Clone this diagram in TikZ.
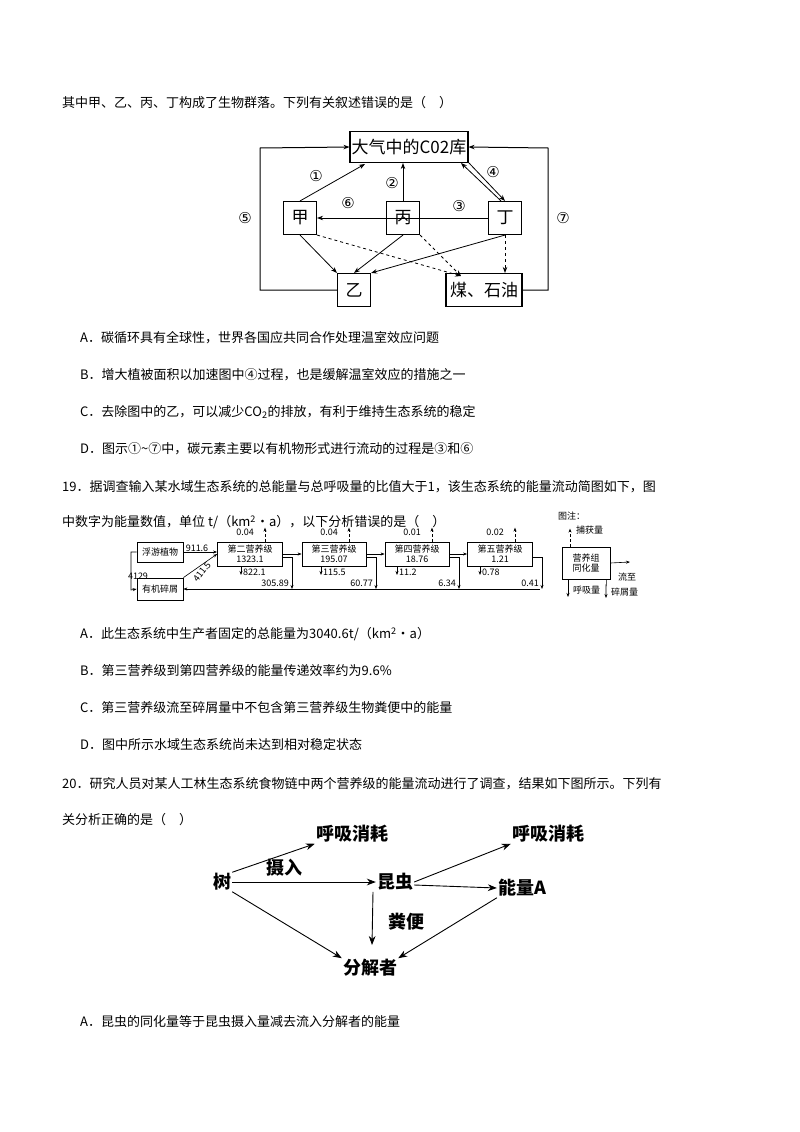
\documentclass[tikz,border=0pt]{standalone}
\usepackage{fontspec}
\setmainfont{Noto Sans CJK SC}
\newfontfamily\sym{DejaVu Sans}
\usetikzlibrary{arrows.meta}
\begin{document}
\begin{tikzpicture}[x=1pt,y=-1pt,
  txt/.style={anchor=west,inner sep=0pt,font=\fontsize{13}{15}\selectfont},
  bx/.style={draw,line width=1.1pt,inner sep=0pt,font=\fontsize{17}{19}\selectfont},
  ar/.style={-{Stealth[length=6pt]},line width=0.8pt},
  da/.style={-{Stealth[length=6pt]},line width=0.8pt,dashed},
  sm/.style={draw,line width=0.8pt,inner sep=0pt,font=\fontsize{9}{10}\selectfont,align=center},
  nm/.style={inner sep=0pt,font=\fontsize{9}{10}\selectfont},
  sa/.style={-{Stealth[length=4pt]},line width=0.6pt},
  sd/.style={-{Stealth[length=4pt]},line width=0.6pt,densely dashed},
  big/.style={inner sep=1pt,font=\fontsize{18}{20}\selectfont\bfseries},
  ba/.style={-{Stealth[length=9pt]},line width=0.9pt}]
\useasboundingbox[fill=white] (0,0) rectangle (800,1132);
% text
\node[txt] (t1) at (62,103) {其中甲、乙、丙、丁构成了生物群落。下列有关叙述错误的是（\quad）};
\node[txt] (a1) at (80,338) {A．碳循环具有全球性，世界各国应共同合作处理温室效应问题};
\node[txt] (b1) at (80,375) {B．增大植被面积以加速图中④过程，也是缓解温室效应的措施之一};
\node[txt] (c1) at (80,412) {C．去除图中的乙，可以减少CO\textsubscript{2}的排放，有利于维持生态系统的稳定};
\node[txt] (d1) at (80,449) {D．图示①\textasciitilde⑦中，碳元素主要以有机物形式进行流动的过程是③和⑥};
\node[txt] (t2) at (62,487) {19．据调查输入某水域生态系统的总能量与总呼吸量的比值大于1，该生态系统的能量流动简图如下，图};
\node[txt] (t2b) at (62,522) {中数字为能量数值，单位 t/（km\textsuperscript{2}·a），以下分析错误的是（\quad）};
\node[txt] (a2) at (80,634) {A．此生态系统中生产者固定的总能量为3040.6t/（km\textsuperscript{2}·a）};
\node[txt] (b2) at (80,671) {B．第三营养级到第四营养级的能量传递效率约为9.6\%};
\node[txt] (c2) at (80,708) {C．第三营养级流至碎屑量中不包含第三营养级生物粪便中的能量};
\node[txt] (d2) at (80,745) {D．图中所示水域生态系统尚未达到相对稳定状态};
\node[txt] (t3) at (62,784) {20．研究人员对某人工林生态系统食物链中两个营养级的能量流动进行了调查，结果如下图所示。下列有};
\node[txt] (t3b) at (62,820) {关分析正确的是（\quad）};
\node[txt] (a3) at (80,1022) {A．昆虫的同化量等于昆虫摄入量减去流入分解者的能量};
% top diagram
\node[bx,minimum width=118,minimum height=31] (co2) at (409,147) {大气中的C02库};
\node[bx,minimum size=33] (jia) at (300,218) {甲};
\node[bx,minimum size=33] (bing) at (403,218) {丙};
\node[bx,minimum size=33] (ding) at (505,218) {丁};
\node[bx,minimum size=33] (yi) at (354,290) {乙};
\node[bx,minimum width=76,minimum height=33] (mei) at (484,290) {煤、石油};
\draw[ar] (jia.north) -- (365,164);
\draw[ar] (bing.north) -- (bing.north|-co2.south);
\draw[ar] (ding) -- (jia);
\draw[ar] (ding.north) ++(-4,0) -- (461,163);
\draw[ar] (469,163) -- (ding.north);
\draw[ar] (jia.south) -- (yi.north west);
\draw[ar] (bing.south) -- (yi.north);
\draw[ar] (ding.south) -- (yi.north east);
\draw[da] (jia.south east) -- (461,276);
\draw[da] (bing.south east) -- (461,276);
\draw[da] (ding.south) -- (ding.south|-mei.north);
\coordinate (lc) at (260,290);
\draw[ar,line width=1pt] (yi.west) -- (lc) -- (260,148) -- (co2.west);
\draw[ar,line width=1pt] (mei.east) -- (548,290) -- (548,148) -- (co2.east);
\node[font=\sym\fontsize{15}{15}\selectfont] (n1) at (316,176) {①};
\node[font=\sym\fontsize{15}{15}\selectfont] (n2) at (392,183) {②};
\node[font=\sym\fontsize{15}{15}\selectfont] (n3) at (459,206) {③};
\node[font=\sym\fontsize{15}{15}\selectfont] (n4) at (493,172) {④};
\node[font=\sym\fontsize{15}{15}\selectfont] (n5) at (245,218) {⑤};
\node[font=\sym\fontsize{15}{15}\selectfont] (n6) at (348,203) {⑥};
\node[font=\sym\fontsize{15}{15}\selectfont] (n7) at (563,218) {⑦};
% middle diagram
\node[sm,minimum width=46,minimum height=20] (fy) at (160,552) {浮游植物};
\node[sm,minimum width=46,minimum height=22] (yj) at (160,589) {有机碎屑};
\node[sm,minimum width=65,minimum height=24] (s2) at (250,554) {第二营养级\\1323.1};
\node[sm,minimum width=64,minimum height=24] (s3) at (334,554) {第三营养级\\195.07};
\node[sm,minimum width=64,minimum height=24] (s4) at (417,554) {第四营养级\\18.76};
\node[sm,minimum width=65,minimum height=24] (s5) at (500,554) {第五营养级\\1.21};
\draw[sa] (fy.east) -- (s2.west|-fy.east);
\draw[sa] (yj.north east) -- (s2.west);
\draw[sa] (s2.east) -- (s3.west);
\draw[sa] (s3.east) -- (s4.west);
\draw[sa] (s4.east) -- (s5.west);
\node[nm,anchor=south] at (197,552) {911.6};
\node[nm,rotate=52] at (202,572) {411.5};
\draw[sa] (fy.west) -- (131,552) -- (131,590) -- (yj.west);
\node[nm] at (138,576) {4129};
\coordinate (bl) at (540,589);
\draw[sa] (bl) -- (yj.east);
\foreach \b/\x/\c/\r/\d/\dx in {s2/292/0.04/822.1/305.89/241, s3/376/0.04/115.5/60.77/321, s4/459/0.01/11.2/6.34/397, s5/542/0.02/0.78/0.41/480}{
  \draw[sa] (\b.east) ++(0,3) -- (\x,557) -- (\x,589);
  \draw[sd] (\b.north) ++(15,0) -- ++(0,-14);
  \node[nm,anchor=east] at ([xshift=4,yshift=9]\b.north) {\c};
  \draw[sa] (\dx,566) -- (\dx,575);
  \node[nm,anchor=west] at (\dx+2,572) {\r};
  \node[nm,anchor=east] at (\x-3,583) {\d};
}
\draw[line width=0.6pt] (292,589) -- (bl);
% legend
\node[nm,anchor=west] (tz) at (558,516) {图注：};
\node[sm,minimum width=48,minimum height=32] (lg) at (586,563) {营养组\\同化量};
\draw[sd] (lg.north) ++(-16,0) -- ++(0,-18);
\node[nm,anchor=west] at (576,530) {捕获量};
\draw[sa] (lg.east) -- (630,562);
\node[nm,anchor=west] at (618,577) {流至};
\node[nm,anchor=west] at (611,592) {碎屑量};
\draw[sa] (568,579) -- (568,597);
\node[nm,anchor=west] at (573,590) {呼吸量};
\draw[sa] (lg.south east) ++(-4,0) -- ++(0,6) -- (606,585) -- (606,598);
% bottom diagram
\node[big] (shu) at (222,882) {树};
\node[big] (hx1) at (352,834) {呼吸消耗};
\node[big] (kc) at (395,882) {昆虫};
\node[big] (hx2) at (548,834) {呼吸消耗};
\node[big] (nla) at (522,888) {能量A};
\node[big] (fjz) at (370,968) {分解者};
\node[big] at (284,868) {摄入};
\node[big] at (406,922) {粪便};
\draw[ba] (shu.north east) -- (hx1.south west);
\draw[ba] (shu.east) -- (kc.west);
\draw[ba] (shu.south east) -- (fjz.north west);
\draw[ba] (kc.east) -- (hx2.south west);
\draw[ba] (kc.east) ++(0,3) -- (nla.west);
\draw[ba] (kc.south) ++(-22,0) -- (372,945);
\draw[ba] (nla.south west) -- (fjz.north east);
\end{tikzpicture}
\end{document}
